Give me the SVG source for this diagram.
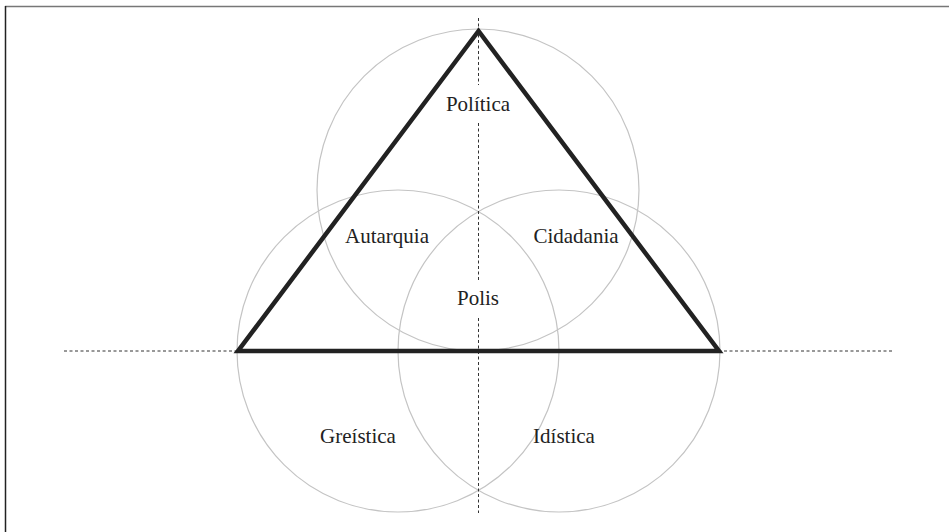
<svg xmlns="http://www.w3.org/2000/svg" width="949" height="532" viewBox="0 0 949 532">
<style>
.circ{fill:none;stroke:#c4c4c4;stroke-width:1.2}
.dash{fill:none;stroke:#333;stroke-width:1;stroke-dasharray:3 2.5}
.tri{fill:none;stroke:#222;stroke-width:4.5;stroke-linejoin:miter}
.lbl{font-family:"Liberation Serif","DejaVu Serif",serif;font-size:21px;fill:#222;text-anchor:middle}
</style>
<rect width="949" height="532" fill="#fff"/>
<line x1="5" y1="6.5" x2="949" y2="6.5" stroke="#777" stroke-width="1.5"/>
<line x1="5.5" y1="6" x2="5.5" y2="532" stroke="#222" stroke-width="1.5"/>
<g id="circles">
<circle id="c-top" class="circ" cx="478" cy="190" r="161"/>
<circle id="c-left" class="circ" cx="398" cy="351" r="161"/>
<circle id="c-right" class="circ" cx="559" cy="351" r="161"/>
</g>
<g id="connectors">
<path class="dash" d="M478.5 18V85M478.5 123V280M478.5 318V513"/>
<line class="dash" x1="64" y1="351" x2="894" y2="351"/>
<polygon class="tri" points="478.5,31 238,351 719,351"/>
</g>
<g id="n-politica"><text class="lbl" x="478" y="111">Política</text></g>
<g id="n-autarquia"><text class="lbl" x="387" y="243">Autarquia</text></g>
<g id="n-cidadania"><text class="lbl" x="576" y="243">Cidadania</text></g>
<g id="n-polis"><text class="lbl" x="478" y="305">Polis</text></g>
<g id="n-greistica"><text class="lbl" x="358" y="443">Greística</text></g>
<g id="n-idistica"><text class="lbl" x="564" y="443">Idística</text></g>
</svg>
